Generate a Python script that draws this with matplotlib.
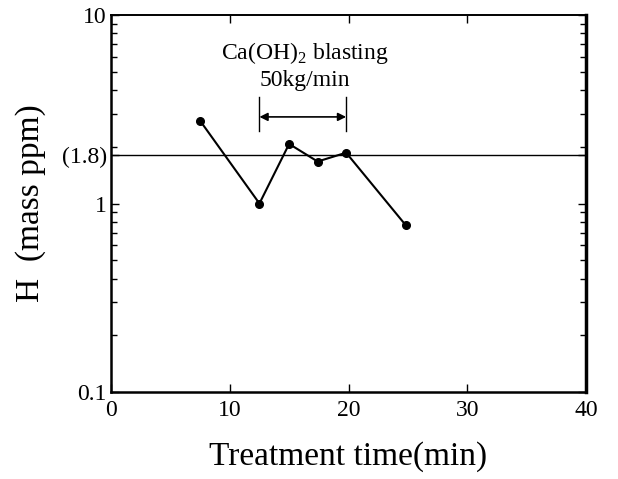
import numpy as np
import matplotlib.pyplot as plt
from matplotlib.ticker import FixedLocator, LogLocator, NullFormatter

plt.rcParams['font.family'] = ['Liberation Serif', 'DejaVu Serif']
plt.rcParams['mathtext.fontset'] = 'custom'
plt.rcParams['mathtext.rm'] = 'Liberation Serif'

# Data
time_min = [7.5, 12.5, 15.0, 17.4, 19.8, 24.8]
h_ppm = [2.75, 1.0, 2.07, 1.67, 1.86, 0.77]
h_ref = 1.8
blast_start, blast_end = 12.5, 19.8

y_ticks = [0.1, 1, h_ref, 10]
y_ticklabels = ['0.1', '1', '(1.8)', '10']
x_ticks = [0, 10, 20, 30, 40]

fig = plt.figure(figsize=(6.18, 4.79), dpi=100)
ax = fig.add_axes([111/618, 1 - 392/479, 475/618, 377/479])

ax.axhline(h_ref, color='black', lw=1.0)
ax.plot(time_min, h_ppm, '-o', color='black', lw=1.5, ms=5.5)

# blasting interval markers
for xb in (blast_start, blast_end):
    ax.plot([xb, xb], [2.43, 3.67], color='black', lw=1.0)
ax.annotate('', xy=(blast_start, 2.88), xytext=(blast_end, 2.88),
            arrowprops=dict(arrowstyle='<|-|>', color='black', lw=1.2,
                            mutation_scale=12, shrinkA=0, shrinkB=0))
ax.text(16.3, 6.3, r'Ca(OH)$_2$ blasting', ha='center', va='center', fontsize=17)
ax.text(16.3, 4.5, '50kg/min', ha='center', va='center', fontsize=17)

ax.set_yscale('log')
ax.set_xlim(0, 40)
ax.set_ylim(0.1, 10)
ax.yaxis.set_major_locator(FixedLocator(y_ticks))
ax.set_yticklabels(y_ticklabels)
ax.yaxis.set_minor_locator(LogLocator(base=10, subs=np.arange(2, 10)))
ax.yaxis.set_minor_formatter(NullFormatter())
ax.set_xticks(x_ticks)

ax.tick_params(which='both', direction='in', top=True, right=True, labelsize=17)
ax.tick_params(which='major', length=6, width=1.0)
ax.tick_params(which='minor', length=4, width=1.0)
ax.tick_params(axis='x', pad=6)
ax.tick_params(axis='y', pad=3)
for s in ax.spines.values():
    s.set_linewidth(1.8)
ax.spines['right'].set_linewidth(2.5)
ax.spines['top'].set_linewidth(1.4)

ax.set_xlabel('Treatment time(min)', fontsize=24, labelpad=14)
ax.set_ylabel('H  (mass ppm)', fontsize=24, labelpad=11)

fig.savefig('out.png', dpi=100)
